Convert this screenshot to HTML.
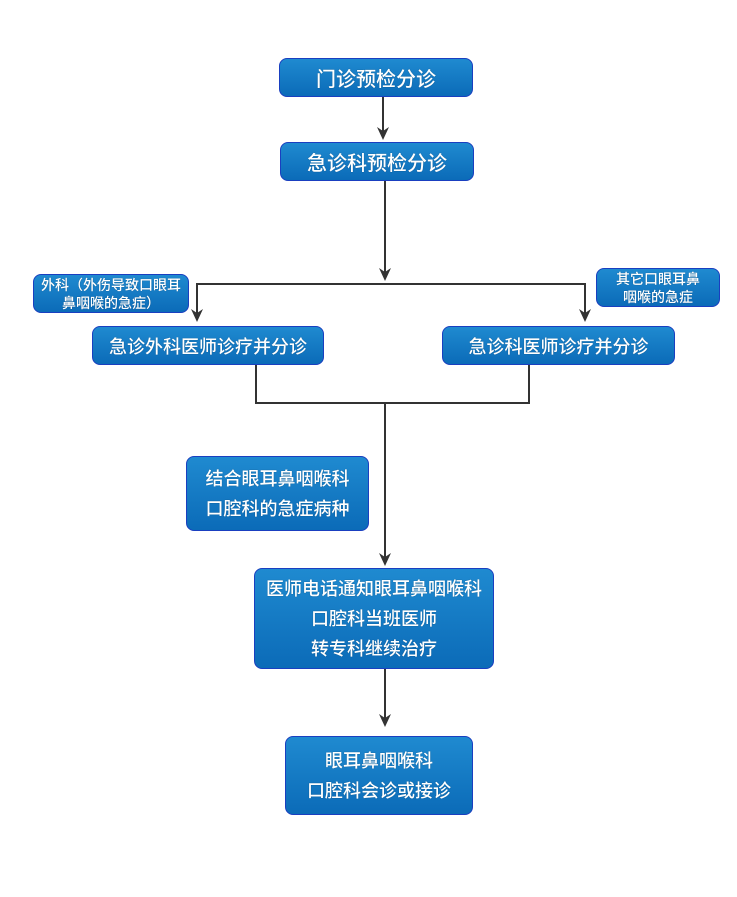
<!DOCTYPE html>
<html><head><meta charset="utf-8"><style>
body{margin:0;background:#fff;width:737px;height:897px;position:relative;overflow:hidden;font-family:"Liberation Sans","Noto Sans CJK SC",sans-serif}
.b{position:absolute;box-sizing:border-box;border:1px solid #1a3fc0;border-radius:8px;background:linear-gradient(#1f8ad0,#0b6bb8);color:#fff;display:flex;flex-direction:column;align-items:center;justify-content:center;text-align:center;text-shadow:0 0 1px rgba(0,0,0,.4);font-weight:500;white-space:nowrap}
.l{font-size:18px;line-height:30px}
.s{font-size:14px;line-height:18px}
svg{position:absolute;left:0;top:0}
</style></head><body>
<svg width="737" height="897">
<g stroke="#333" stroke-width="2" fill="none">
<line x1="383" y1="97" x2="383" y2="134"/>
<line x1="385" y1="181" x2="385" y2="275"/>
<polyline points="197,316 197,284 585,284 585,316"/>
<polyline points="256,365 256,403 529,403 529,365"/>
<line x1="385" y1="403" x2="385" y2="560"/>
<line x1="385" y1="669" x2="385" y2="721"/>
</g>
<g fill="#333">
<path d="M377,127 L383,131 L389,127 L383,140 Z"/>
<path d="M379,268 L385,272 L391,268 L385,281 Z"/>
<path d="M191,309 L197,313 L203,309 L197,322 Z"/>
<path d="M579,309 L585,313 L591,309 L585,322 Z"/>
<path d="M379,553 L385,557 L391,553 L385,566 Z"/>
<path d="M379,714 L385,718 L391,714 L385,727 Z"/>
</g></svg>
<div class="b" style="left:279px;top:58px;width:194px;height:39px;font-size:20px">门诊预检分诊</div>
<div class="b" style="left:280px;top:142px;width:194px;height:39px;font-size:20px">急诊科预检分诊</div>
<div class="b s" style="left:33px;top:274px;width:156px;height:39px">外科（外伤导致口眼耳<br>鼻咽喉的急症）</div>
<div class="b s" style="left:596px;top:268px;width:124px;height:39px">其它口眼耳鼻<br>咽喉的急症</div>
<div class="b" style="left:92px;top:326px;width:232px;height:39px;font-size:18px">急诊外科医师诊疗并分诊</div>
<div class="b" style="left:442px;top:326px;width:233px;height:39px;font-size:18px">急诊科医师诊疗并分诊</div>
<div class="b l" style="left:186px;top:456px;width:183px;height:75px">结合眼耳鼻咽喉科<br>口腔科的急症病种</div>
<div class="b l" style="left:254px;top:568px;width:240px;height:101px">医师电话通知眼耳鼻咽喉科<br>口腔科当班医师<br>转专科继续治疗</div>
<div class="b l" style="left:285px;top:736px;width:188px;height:79px">眼耳鼻咽喉科<br>口腔科会诊或接诊</div>
</body></html>
